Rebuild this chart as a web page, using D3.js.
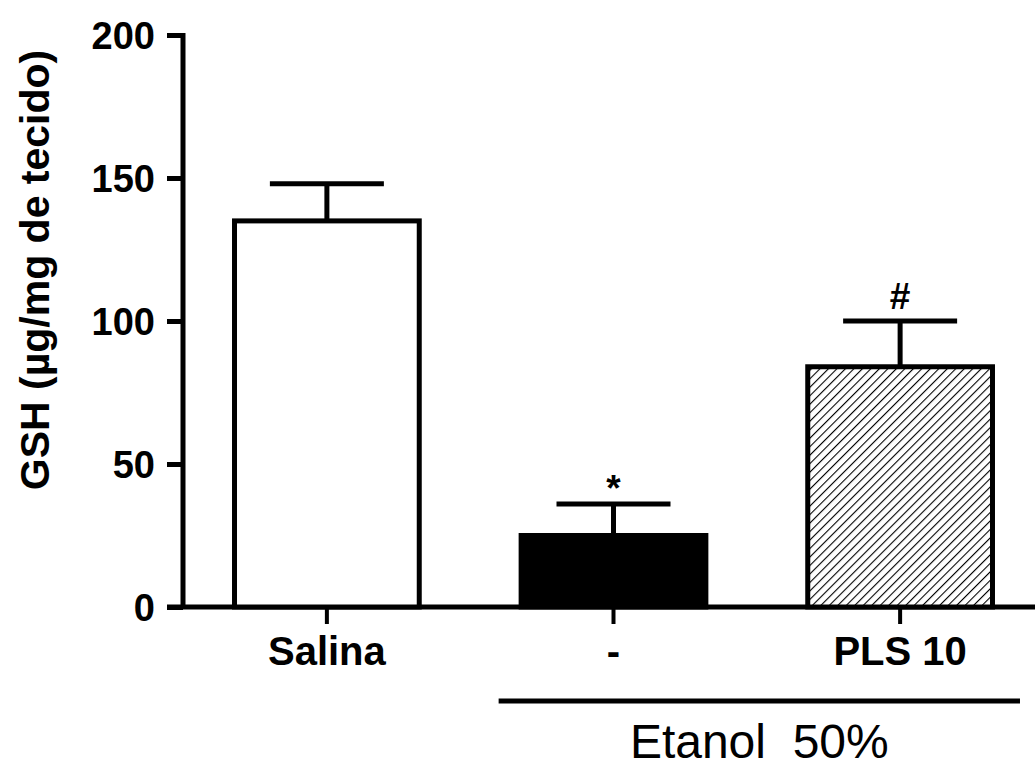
<!DOCTYPE html>
<html>
<head>
<meta charset="utf-8">
<script src="https://cdn.jsdelivr.net/npm/d3@7"></script>
<style>
  html, body { margin: 0; padding: 0; background: #fff; }
  svg { display: block; }
  text { font-family: "Liberation Sans", Arial, sans-serif; fill: #000; }
</style>
</head>
<body>
<svg id="chart" width="1035" height="758"></svg>
<script>
// GSH content per group (mean ± SEM)
const categories = ["Salina", "-", "PLS 10"];
const means = [135, 25, 84];
const sems = [13, 11, 16];
const marks = ["", "*", "#"];
const fills = ["white", "black", "hatch"];
const yTicks = [0, 50, 100, 150, 200];
const yTitle = "GSH (µg/mg de tecido)";
const groupLabel = "Etanol  50%";

const svg = d3.select("#chart");

// diagonal hatch for the PLS bar
const defs = svg.append("defs");
const pat = defs.append("pattern")
  .attr("id", "hatch")
  .attr("patternUnits", "userSpaceOnUse")
  .attr("width", 6).attr("height", 6)
  .attr("patternTransform", "rotate(45)");
pat.append("rect").attr("width", 6).attr("height", 6).attr("fill", "white");
pat.append("line").attr("x1", 0).attr("y1", 0).attr("x2", 0).attr("y2", 6)
  .attr("stroke", "black").attr("stroke-width", 2.2);

const y = d3.scaleLinear().domain([0, 200]).range([607, 35]);
const x = d3.scaleBand().domain(categories)
  .range([183, 1044]).paddingInner(0.338).paddingOuter(0.171);

// y axis
const yAxis = d3.axisLeft(y).tickValues(yTicks).tickSize(16).tickPadding(12);
const gy = svg.append("g").attr("transform", "translate(183,0)").call(yAxis);
gy.select(".domain").attr("stroke-width", 5).attr("d", `M0,${y(200)-2}V${y(0)}`);
gy.selectAll(".tick line").attr("stroke-width", 5).attr("x2", -16);
gy.selectAll(".tick text")
  .style("font-size", "38px").style("font-weight", "bold")
  .attr("dy", "0.36em");

// x axis baseline with category ticks
const xAxis = d3.axisBottom(x).tickSize(17);
const gx = svg.append("g").attr("transform", `translate(0,${y(0)})`).call(xAxis);
gx.select(".domain").attr("stroke-width", 5).attr("d", `M167,0H1035`);
gx.selectAll(".tick line").attr("stroke-width", 4);
gx.selectAll(".tick text")
  .attr("y", 58).attr("dy", 0)
  .style("font-size", "40px").style("font-weight", "bold");

// bars
const markOffset = { "*": 3, "#": 12 };
const bars = svg.append("g");
categories.forEach((c, i) => {
  const x0 = x(c), w = x.bandwidth();
  const cx = x0 + w / 2;
  const top = y(means[i] + sems[i]);
  // error bar (upper)
  bars.append("line")
    .attr("x1", cx).attr("x2", cx)
    .attr("y1", y(means[i])).attr("y2", top)
    .attr("stroke", "black").attr("stroke-width", 5);
  bars.append("line")
    .attr("x1", cx - 57).attr("x2", cx + 57)
    .attr("y1", top).attr("y2", top)
    .attr("stroke", "black").attr("stroke-width", 5);
  bars.append("rect")
    .attr("x", x0 + 2.5).attr("y", y(means[i]))
    .attr("width", w - 5).attr("height", y(0) - y(means[i]))
    .attr("fill", fills[i] === "hatch" ? "url(#hatch)" : fills[i])
    .attr("stroke", "black").attr("stroke-width", 5);
  if (marks[i]) {
    bars.append("text")
      .attr("x", cx).attr("y", top - markOffset[marks[i]])
      .attr("text-anchor", "middle")
      .style("font-size", "37px")
      .style("font-weight", "bold")
      .text(marks[i]);
  }
});

// group bracket for ethanol-treated groups
const gx1 = x(categories[1]) - 20, gx2 = x(categories[2]) + x.bandwidth() + 25;
svg.append("line").attr("x1", gx1).attr("x2", gx2).attr("y1", 701).attr("y2", 701)
  .attr("stroke", "black").attr("stroke-width", 5);
svg.append("text").attr("x", (gx1 + gx2) / 2).attr("y", 758)
  .attr("text-anchor", "middle")
  .attr("xml:space", "preserve")
  .style("white-space", "pre")
  .style("font-size", "48px")
  .text(groupLabel);

// y axis title
svg.append("text")
  .attr("transform", "translate(49,270) rotate(-90)")
  .attr("text-anchor", "middle")
  .style("font-size", "41px").style("font-weight", "bold")
  .text(yTitle);
</script>
</body>
</html>
